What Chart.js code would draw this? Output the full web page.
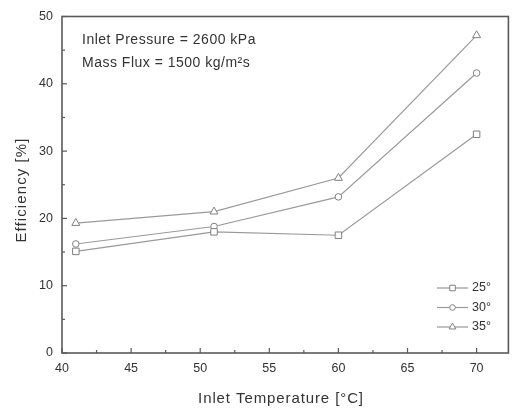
<!DOCTYPE html>
<html><head><meta charset="utf-8">
<script src="https://cdn.jsdelivr.net/npm/chart.js@4.4.1/dist/chart.umd.min.js"></script>
<style>html,body{margin:0;padding:0;background:#fff;}#wrap{width:514px;height:415px;}</style>
</head><body><div id="wrap"><canvas id="c" width="514" height="415"></canvas></div>
<script>
const temps = [41, 51, 60, 70];
const eff25 = [15.1, 18.0, 17.5, 32.5];
const eff30 = [16.2, 18.8, 23.2, 41.6];
const eff35 = [19.3, 21.0, 26.0, 47.2];
const seriesLabels = ['25°', '30°', '35°'];
const pointShapes = ['rect', 'circle', 'triangle'];
const xTickValues = [40, 45, 50, 55, 60, 65, 70];
const yTickValues = [0, 10, 20, 30, 40, 50];
const annotations = ['Inlet Pressure = 2600 kPa', 'Mass Flux = 1500 kg/m²s'];
const xTitle = 'Inlet Temperature [°C]';
const yTitle = 'Efficiency [%]';

const FONT = "'Liberation Sans', Arial, sans-serif";
const AXIS = '#5a5a5a';
const LINE = '#9a9a9a';
const MARK = '#808080';
const TEXT = '#333';
const RADII = [4.6, 3.3, 4.6];

function mk(vals, i) {
  return {
    label: seriesLabels[i],
    data: temps.map((t, k) => ({x: t, y: vals[k]})),
    borderColor: LINE, borderWidth: 1.2,
    pointStyle: pointShapes[i],
    pointRadius: RADII[i],
    pointBorderColor: MARK, pointBackgroundColor: '#fff', pointBorderWidth: 1,
    showLine: true, tension: 0
  };
}

const deco = {
  id: 'deco',
  afterDraw(chart) {
    const ctx = chart.ctx, a = chart.chartArea, xs = chart.scales.x, ys = chart.scales.y;
    ctx.save();
    ctx.strokeStyle = AXIS; ctx.lineWidth = 1.6;
    ctx.strokeRect(a.left, a.top, a.right - a.left, a.bottom - a.top);
    ctx.lineWidth = 1.2;
    for (let v = 40; v <= 70; v += 2.5) {
      const px = xs.getPixelForValue(v);
      const len = (v % 5 === 0) ? 5 : 3;
      ctx.beginPath(); ctx.moveTo(px, a.bottom); ctx.lineTo(px, a.bottom - len); ctx.stroke();
    }
    for (let v = 0; v <= 50; v += 5) {
      const py = ys.getPixelForValue(v);
      const len = (v % 10 === 0) ? 5 : 3;
      ctx.beginPath(); ctx.moveTo(a.left, py); ctx.lineTo(a.left + len, py); ctx.stroke();
    }
    ctx.fillStyle = TEXT; ctx.textBaseline = 'middle'; ctx.textAlign = 'left';
    ctx.font = '14px ' + FONT; ctx.letterSpacing = '0.5px';
    ctx.fillText(annotations[0], a.left + 20, a.top + 24);
    ctx.fillText(annotations[1], a.left + 20, a.top + 47);
    // axis titles
    ctx.font = '15px ' + FONT; ctx.letterSpacing = '0.9px'; ctx.textAlign = 'center';
    ctx.fillText(xTitle, 281, 399);
    ctx.save();
    ctx.translate(22, 190); ctx.rotate(-Math.PI / 2);
    ctx.letterSpacing = '1.1px';
    ctx.fillText(yTitle, 0, 0);
    ctx.restore();
    ctx.letterSpacing = '0px'; ctx.textAlign = 'left';
    const lx = 437, ly0 = 288, dy = 19.5;
    chart.data.datasets.forEach((ds, i) => {
      const y = ly0 + i * dy;
      ctx.strokeStyle = LINE; ctx.lineWidth = 1.2;
      ctx.beginPath(); ctx.moveTo(lx, y); ctx.lineTo(lx + 31, y); ctx.stroke();
      ctx.fillStyle = '#fff'; ctx.strokeStyle = MARK; ctx.lineWidth = 1;
      Chart.helpers.drawPoint(ctx, {pointStyle: ds.pointStyle, radius: ds.pointRadius * 0.85, borderWidth: 1, rotation: 0}, lx + 15.5, y);
      ctx.fillStyle = TEXT; ctx.font = '12.5px ' + FONT;
      ctx.fillText(ds.label, lx + 35, y);
    });
    ctx.restore();
  }
};

new Chart(document.getElementById('c'), {
  type: 'scatter',
  data: { datasets: [mk(eff25, 0), mk(eff30, 1), mk(eff35, 2)] },
  options: {
    responsive: false, animation: false, devicePixelRatio: 1,
    layout: { padding: { top: 13, right: 3, left: 0, bottom: 0 } },
    plugins: { legend: { display: false }, tooltip: { enabled: false } },
    scales: {
      x: {
        type: 'linear', min: 40, max: 72.3,
        afterBuildTicks(s) { s.ticks = xTickValues.map(v => ({value: v})); },
        afterFit(s) { s.height = 62; },
        grid: { display: false, drawTicks: false },
        border: { display: false },
        ticks: { color: TEXT, font: { family: FONT, size: 12.5 }, padding: 8 },
        title: { display: false }
      },
      y: {
        type: 'linear', min: 0, max: 50,
        afterBuildTicks(s) { s.ticks = yTickValues.map(v => ({value: v})); },
        afterFit(s) { s.width = 62; },
        grid: { display: false, drawTicks: false },
        border: { display: false },
        ticks: { color: TEXT, font: { family: FONT, size: 12.5 }, padding: 9 },
        title: { display: false }
      }
    }
  },
  plugins: [deco]
});
</script></body></html>
